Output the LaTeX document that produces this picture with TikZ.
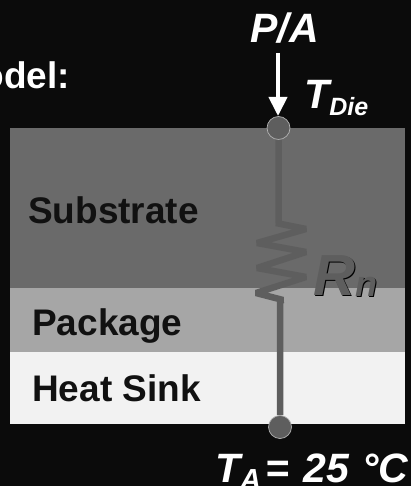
\documentclass[tikz,border=0pt]{standalone}
\usepackage{fontspec}
\setmainfont{Liberation Sans}
\usetikzlibrary{positioning,arrows.meta}
\definecolor{backdrop}{HTML}{0B0B0B}
\definecolor{substratefill}{HTML}{6A6A6A}
\definecolor{packagefill}{HTML}{A6A6A6}
\definecolor{sinkfill}{HTML}{F2F2F2}
\definecolor{wirecol}{HTML}{5E5E5E}
\definecolor{inkdark}{HTML}{111111}

\begin{document}
\begin{tikzpicture}[
  x=1pt, y=-1pt,
  layer/.style={inner sep=0pt, outer sep=0pt, minimum width=395pt},
  layertext/.style={anchor=base west, inner sep=0pt, text=inkdark, font=\fontsize{37}{40}\selectfont\bfseries},
  heading/.style={anchor=base east, inner sep=0pt, text=white, font=\fontsize{37}{40}\selectfont\bfseries},
  symbol/.style={anchor=base west, inner sep=0pt, text=white, font=\fontsize{41}{44}\selectfont\bfseries\itshape},
  terminal/.style={circle, draw=white!70!black, fill=wirecol, line width=0.7pt, minimum size=23pt, inner sep=0pt},
  wire/.style={draw=wirecol, line width=6.5pt, line join=bevel},
  arrow/.style={-{Triangle[length=19pt,width=18pt]}, color=white, line width=4pt},
]
\useasboundingbox (0,0) rectangle (411,486);
\node[anchor=north west, fill=backdrop, inner sep=0pt, outer sep=0pt, minimum width=411pt, minimum height=486pt] (frame) at (0,0) {};

\node[layer, anchor=north west, fill=substratefill, minimum height=160pt] (substrate) at (10,128) {};
\node[layer, below=0pt of substrate, fill=packagefill, minimum height=64pt] (package) {};
\node[layer, below=0pt of package, fill=sinkfill, minimum height=72pt] (sink) {};

\node[layertext] (substratelabel) at (28,223) {Substrate};
\node[layertext] (packagelabel) at (32,335) {Package};
\node[layertext] (sinklabel) at (32,401) {Heat Sink};
\node[heading] (modellabel) at (70,89) {odel:};

\node[terminal] (die) at (278.5,128) {};
\node[terminal] (amb) at (280,427) {};
\draw[wire] (die) -- (278.5,223) -- (276,223) -- (306,229) -- (257,243) -- (306,252) -- (257,268) -- (306,277) -- (256,293) -- (283,300) -- (280,301) -- (amb);

\node[symbol, anchor=base] (power) at (284.5,43) {P/A};
\coordinate (powerend) at (278,116);
\draw[arrow] (278,53) -- (powerend);

\node[symbol] (tdie) at (304,109) {T\raisebox{-7pt}{\fontsize{25}{27}\selectfont Die}};
\node[symbol, text=black, font=\fontsize{58}{60}\selectfont\bfseries\itshape] (rshadow) at (314.5,296.5) {R\raisebox{-1pt}{\fontsize{36}{40}\selectfont n}};
\node[symbol, text=wirecol, font=\fontsize{58}{60}\selectfont\bfseries\itshape] (rlabel) at (313,295) {R\raisebox{-1pt}{\fontsize{36}{40}\selectfont n}};
\node[symbol] (tamb) at (215,482) {T\raisebox{-7pt}{\fontsize{29}{30}\selectfont A}\hspace{4pt}=\hspace{3pt} 25 \hspace{2pt}°C};
\end{tikzpicture}
\end{document}
